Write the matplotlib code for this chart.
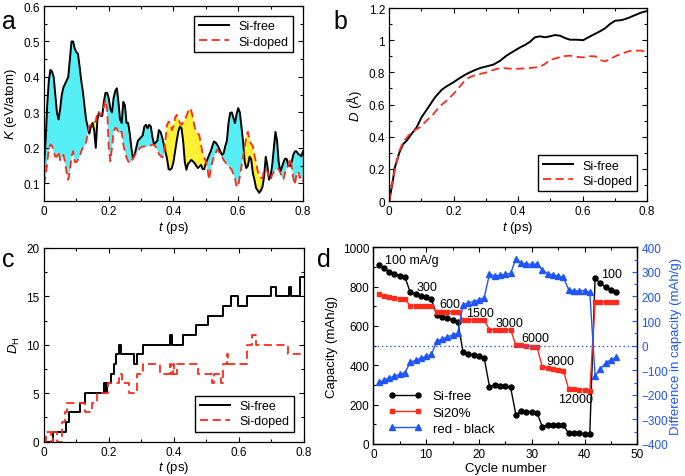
import numpy as np
import matplotlib
matplotlib.use('Agg')
import matplotlib.pyplot as plt
from matplotlib.ticker import MultipleLocator

plt.rcParams['font.family'] = ['Liberation Sans', 'DejaVu Sans']
plt.rcParams['mathtext.fontset'] = 'custom'
plt.rcParams['mathtext.rm'] = 'Liberation Sans'
plt.rcParams['mathtext.it'] = 'Liberation Sans:italic'
plt.rcParams['font.size'] = 9
plt.rcParams['axes.linewidth'] = 0.9

RED = '#ff2a1a'
BLUE = '#1f55ff'
CYAN = '#55eef5'
YELLOW = '#fff033'

########################################################################
# panel a : kinetic energy, sampled every 5 fs

t_a = np.round(np.arange(161) * 0.005, 3)
k_free = [
    0.15, 0.22, 0.32, 0.39, 0.42, 0.415, 0.40, 0.35, 0.30, 0.28,
    0.31, 0.35, 0.37, 0.38, 0.39, 0.40, 0.45, 0.50, 0.50, 0.48,
    0.47, 0.465, 0.43, 0.39, 0.36, 0.32, 0.28, 0.26, 0.24, 0.26,
    0.27, 0.25, 0.20, 0.28, 0.30, 0.29, 0.29, 0.33, 0.355, 0.355,
    0.34, 0.31, 0.30, 0.34, 0.36, 0.368, 0.33, 0.28, 0.27, 0.33,
    0.32, 0.27, 0.27, 0.24, 0.20, 0.17, 0.18, 0.20, 0.22, 0.225,
    0.23, 0.235, 0.26, 0.265, 0.255, 0.265, 0.26, 0.23, 0.21, 0.215,
    0.22, 0.25, 0.245, 0.23, 0.21, 0.19, 0.17, 0.14, 0.138, 0.143,
    0.16, 0.19, 0.22, 0.246, 0.26, 0.255, 0.218, 0.16, 0.138, 0.155,
    0.16, 0.166, 0.162, 0.157, 0.15, 0.143, 0.147, 0.152, 0.14, 0.14,
    0.157, 0.168, 0.18, 0.19, 0.205, 0.218, 0.215, 0.209, 0.20, 0.19,
    0.18, 0.185, 0.205, 0.22, 0.27, 0.298, 0.30, 0.285, 0.27, 0.295,
    0.312, 0.30, 0.26, 0.218, 0.16, 0.143, 0.15, 0.175, 0.168, 0.13,
    0.11, 0.087, 0.08, 0.073, 0.08, 0.09, 0.12, 0.175, 0.15, 0.11,
    0.12, 0.152, 0.20, 0.245, 0.22, 0.16, 0.134, 0.145, 0.16, 0.17,
    0.168, 0.15, 0.148, 0.16, 0.18, 0.19, 0.19, 0.183, 0.18, 0.176,
    0.19]
k_doped = [
    0.096, 0.12, 0.16, 0.195, 0.21, 0.205, 0.19, 0.175, 0.175, 0.19,
    0.165, 0.17, 0.18, 0.16, 0.13, 0.11, 0.135, 0.175, 0.19, 0.16,
    0.16, 0.166, 0.175, 0.19, 0.20, 0.205, 0.215, 0.24, 0.26, 0.265,
    0.274, 0.272, 0.275, 0.302, 0.30, 0.29, 0.30, 0.315, 0.335, 0.31,
    0.20, 0.162, 0.20, 0.245, 0.256, 0.255, 0.24, 0.245, 0.245, 0.209,
    0.19, 0.172, 0.162, 0.157, 0.162, 0.17, 0.178, 0.185, 0.192, 0.198,
    0.201, 0.204, 0.204, 0.204, 0.204, 0.205, 0.207, 0.209, 0.208, 0.203,
    0.195, 0.182, 0.178, 0.173, 0.175, 0.22, 0.265, 0.274, 0.27, 0.25,
    0.262, 0.285, 0.293, 0.283, 0.27, 0.265, 0.272, 0.279, 0.29, 0.302,
    0.312, 0.305, 0.285, 0.26, 0.245, 0.241, 0.235, 0.209, 0.185, 0.172,
    0.162, 0.14, 0.11, 0.14, 0.16, 0.175, 0.185, 0.195, 0.19, 0.182,
    0.175, 0.165, 0.16, 0.152, 0.148, 0.143, 0.138, 0.125, 0.112, 0.09,
    0.092, 0.12, 0.148, 0.175, 0.20, 0.235, 0.245, 0.22, 0.211, 0.205,
    0.18, 0.16, 0.135, 0.12, 0.115, 0.115, 0.14, 0.138, 0.134, 0.115,
    0.11, 0.124, 0.132, 0.137, 0.142, 0.14, 0.13, 0.115, 0.112, 0.13,
    0.145, 0.148, 0.17, 0.15, 0.115, 0.096, 0.125, 0.133, 0.115, 0.12,
    0.105]

# panel b : displacement
t_b_free = [0, 0.012, 0.016, 0.031, 0.043, 0.054, 0.069, 0.085, 0.1, 0.121,
            0.142, 0.163, 0.178, 0.199, 0.219, 0.24, 0.261, 0.282, 0.302, 0.323,
            0.344, 0.364, 0.385, 0.406, 0.421, 0.437, 0.452, 0.468, 0.483, 0.499,
            0.514, 0.53, 0.546, 0.561, 0.582, 0.602, 0.618, 0.634, 0.654, 0.67,
            0.685, 0.701, 0.722, 0.742, 0.763, 0.784, 0.8]
d_free = [0, 0.137, 0.2, 0.30, 0.354, 0.375, 0.417, 0.458, 0.52, 0.582,
          0.645, 0.692, 0.713, 0.738, 0.765, 0.79, 0.81, 0.827, 0.837, 0.848,
          0.872, 0.904, 0.93, 0.955, 0.97, 0.99, 1.018, 1.024, 1.018, 1.024,
          1.032, 1.028, 1.013, 1.003, 1.003, 1.0, 1.018, 1.034, 1.055, 1.074,
          1.1, 1.121, 1.125, 1.138, 1.156, 1.173, 1.181]
t_b_doped = [0, 0.012, 0.031, 0.043, 0.059, 0.075, 0.095, 0.116, 0.137, 0.157,
             0.178, 0.199, 0.214, 0.23, 0.245, 0.261, 0.282, 0.302, 0.323, 0.344,
             0.364, 0.385, 0.406, 0.427, 0.447, 0.468, 0.483, 0.499, 0.52, 0.54,
             0.561, 0.582, 0.602, 0.623, 0.639, 0.654, 0.67, 0.685, 0.706, 0.727,
             0.747, 0.768, 0.784, 0.8]
d_doped = [0, 0.147, 0.31, 0.365, 0.406, 0.437, 0.458, 0.5, 0.541, 0.589,
           0.624, 0.665, 0.7, 0.738, 0.765, 0.779, 0.79, 0.8, 0.815, 0.827,
           0.825, 0.821, 0.823, 0.825, 0.829, 0.835, 0.852, 0.877, 0.889, 0.9,
           0.904, 0.897, 0.893, 0.9, 0.9, 0.877, 0.868, 0.883, 0.904, 0.92,
           0.933, 0.935, 0.935, 0.924]

# panel c : D_H staircase (value holds until next time)
t_c_free = [0, 0.028, 0.069, 0.079, 0.112, 0.127, 0.185, 0.190, 0.196, 0.208,
            0.215, 0.221, 0.232, 0.239, 0.278, 0.286, 0.304, 0.389, 0.394, 0.427,
            0.467, 0.506, 0.551, 0.575, 0.597, 0.626, 0.698, 0.713, 0.754, 0.759,
            0.789, 0.8]
dh_free = [0, 1, 2, 3, 4, 5, 6, 5, 6, 7,
           8, 9, 10, 9, 8, 9, 10, 11, 10, 11,
           12, 13, 14, 15, 14, 15, 16, 15, 16, 15,
           17, 17]
t_c_doped = [0, 0.008, 0.022, 0.030, 0.040, 0.056, 0.066, 0.072, 0.128, 0.148,
             0.163, 0.197, 0.232, 0.240, 0.262, 0.286, 0.306, 0.357, 0.388, 0.392,
             0.397, 0.401, 0.410, 0.474, 0.517, 0.522, 0.546, 0.552, 0.562, 0.567,
             0.624, 0.641, 0.654, 0.750, 0.8]
dh_doped = [0, 1, 0, 1, 0, 2, 3, 4, 3, 4,
            5, 6, 7, 6, 5, 7, 8, 7, 8, 7,
            8, 7, 8, 7, 6, 7, 6, 8, 9, 8,
            10, 11, 10, 9, 9]

# panel d : rate capability
cycles = list(range(1, 47))
cap_free = [912, 893, 876, 864, 856, 847, 771, 763, 754, 746,
            737, 656, 647, 639, 631, 622, 466, 458, 453, 446,
            437, 292, 300, 297, 293, 288, 149, 166, 164, 163,
            159, 88, 97, 95, 95, 95, 54, 56, 56, 51,
            53, 842, 817, 797, 783, 771]
cap_si20 = [763, 753, 746, 741, 739, 737, 702, 702, 702, 702,
            702, 673, 673, 673, 673, 673, 631, 631, 631, 631,
            631, 581, 581, 581, 581, 581, 503, 501, 498, 495,
            492, 393, 386, 381, 376, 373, 280, 278, 276, 273,
            269, 720, 722, 724, 724, 724]
cap_diff = [-149, -141, -131, -124, -117, -110, -67, -60, -51, -44,
            -36, 17, 27, 35, 43, 52, 166, 174, 179, 186,
            195, 291, 283, 286, 290, 294, 353, 335, 332, 331,
            332, 308, 293, 288, 282, 278, 227, 223, 223, 224,
            217, -122, -95, -71, -57, -47]
rate_labels = ['100 mA/g', '300', '600', '1500', '3000', '6000', '9000', '12000', '100']
rate_x = [2.2, 8.2, 12.6, 17.6, 23.2, 28.1, 32.8, 35.0, 43.2]
rate_y = [936, 797, 710, 666, 614, 537, 424, 229, 864]

########################################################################

def style(ax, xmin, ymin, right=True):
    ax.xaxis.set_minor_locator(MultipleLocator(xmin))
    ax.yaxis.set_minor_locator(MultipleLocator(ymin))
    ax.tick_params(which='both', direction='in', top=True, right=right,
                   labelsize=8.5, width=0.8)
    ax.tick_params(which='major', length=3.5, pad=3)
    ax.tick_params(which='minor', length=2)


def fmt(v, pos):
    return '%g' % v


def box_legend(ax, loc):
    ax.legend(loc=loc, fancybox=False, edgecolor='k', framealpha=1,
              fontsize=9, handlelength=2.4, borderaxespad=0.8,
              borderpad=0.35, labelspacing=0.25)


fig = plt.figure(figsize=(6.85, 4.77), dpi=100)

# a
ax = fig.add_axes([0.0642, 0.5765, 0.3781, 0.4088])
ka = np.array(k_free)
kd = np.array(k_doped)
ax.fill_between(t_a, ka, kd, where=ka >= kd, interpolate=True, color=CYAN, lw=0)
ax.fill_between(t_a, ka, kd, where=ka < kd, interpolate=True, color=YELLOW, lw=0)
ax.plot(t_a, ka, color='k', lw=1.4, label='Si-free')
ax.plot(t_a, kd, color=RED, lw=1.3, ls=(0, (4.5, 2.5)), label='Si-doped')
ax.set_xlim(0, 0.8)
ax.set_ylim(0.05, 0.6)
ax.xaxis.set_major_locator(MultipleLocator(0.2))
ax.yaxis.set_major_locator(MultipleLocator(0.1))
ax.xaxis.set_major_formatter(fmt)
ax.yaxis.set_major_formatter(fmt)
style(ax, 0.1, 0.05)
ax.set_xlabel(r'$\mathit{t}$ (ps)', fontsize=9.5, labelpad=1)
ax.set_ylabel(r'$\mathit{K}$ (eV/atom)', fontsize=9.5, labelpad=3)
box_legend(ax, 'upper right')

# b
ax = fig.add_axes([0.5683, 0.5765, 0.3762, 0.4046])
ax.plot(t_b_free, d_free, color='k', lw=1.4, label='Si-free')
ax.plot(t_b_doped, d_doped, color=RED, lw=1.3, ls=(0, (4.5, 2.5)), label='Si-doped')
ax.set_xlim(0, 0.8)
ax.set_ylim(0, 1.2)
ax.xaxis.set_major_locator(MultipleLocator(0.2))
ax.yaxis.set_major_locator(MultipleLocator(0.2))
ax.xaxis.set_major_formatter(fmt)
ax.yaxis.set_major_formatter(fmt)
style(ax, 0.1, 0.1)
ax.set_xlabel(r'$\mathit{t}$ (ps)', fontsize=9.5, labelpad=1)
ax.set_ylabel(r'$\mathit{D}$ (Å)', fontsize=9.5, labelpad=3)
box_legend(ax, 'lower right')

# c
ax = fig.add_axes([0.0638, 0.0723, 0.38, 0.4057])
ax.plot(t_c_free, dh_free, color='k', lw=1.4, drawstyle='steps-post', label='Si-free')
ax.plot(t_c_doped, dh_doped, color=RED, lw=1.3, ls=(0, (4.5, 2.5)),
        drawstyle='steps-post', label='Si-doped')
ax.set_xlim(0, 0.8)
ax.set_ylim(0, 20)
ax.xaxis.set_major_locator(MultipleLocator(0.2))
ax.yaxis.set_major_locator(MultipleLocator(5))
ax.xaxis.set_major_formatter(fmt)
style(ax, 0.1, 2.5)
ax.set_xlabel(r'$\mathit{t}$ (ps)', fontsize=9.5, labelpad=1)
ax.set_ylabel(r'$\mathit{D}_\mathrm{H}$', fontsize=9.5, labelpad=3)
box_legend(ax, 'lower right')

# d
ax = fig.add_axes([0.545, 0.0671, 0.3854, 0.4124])
ax2 = ax.twinx()
l1, = ax.plot(cycles, cap_free, color='k', lw=1, marker='o', ms=3.6, label='Si-free')
l2, = ax.plot(cycles, cap_si20, color=RED, lw=1, marker='s', ms=3.4, label='Si20%')
l3, = ax2.plot(cycles, cap_diff, color=BLUE, lw=1, marker='^', ms=4, label='red - black')
ax2.axhline(0, color=BLUE, lw=1, ls=(0, (1, 2)))
for s, x, y in zip(rate_labels, rate_x, rate_y):
    ax.text(x, y, s, fontsize=9, va='center', ha='left')
ax.set_xlim(0, 50)
ax.set_ylim(0, 1000)
ax2.set_ylim(-400, 400)
ax.xaxis.set_major_locator(MultipleLocator(10))
ax.yaxis.set_major_locator(MultipleLocator(200))
ax2.yaxis.set_major_locator(MultipleLocator(100))
ax2.yaxis.set_minor_locator(MultipleLocator(50))
style(ax, 5, 100, right=False)
ax2.tick_params(which='both', direction='in', colors=BLUE, labelsize=8.5, width=0.8)
ax2.tick_params(which='major', length=3.5, pad=3)
ax2.tick_params(which='minor', length=2)
ax.set_xlabel('Cycle number', fontsize=9.5, labelpad=1)
ax.set_ylabel('Capacity (mAh/g)', fontsize=9.5, labelpad=3)
ax2.set_ylabel('Difference in capacity (mAh/g)', fontsize=9.5, color=BLUE, labelpad=1)
ax2.legend(handles=[l1, l2, l3], loc='lower left', frameon=False, numpoints=2,
           fontsize=9.5, handlelength=2.6, borderaxespad=0.3, labelspacing=0.3,
           bbox_to_anchor=(0.02, 0.0))

# panel letters
for s, x, y in [('a', 0.003, 0.978), ('b', 0.487, 0.978), ('c', 0.003, 0.48), ('d', 0.463, 0.48)]:
    fig.text(x, y, s, fontsize=18, va='top', ha='left')

plt.savefig('out.png', dpi=100)
plt.close()
